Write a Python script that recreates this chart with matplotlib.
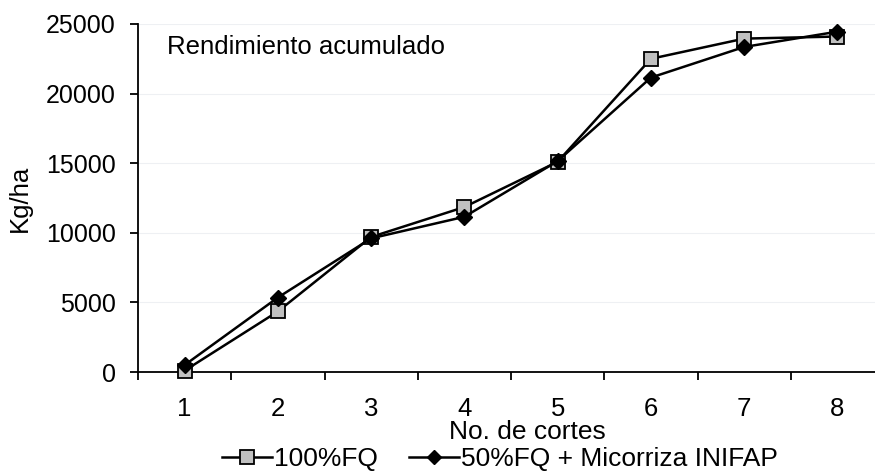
import matplotlib
matplotlib.use("Agg")
import matplotlib.pyplot as plt
from matplotlib.ticker import FixedLocator, NullFormatter
from matplotlib.lines import Line2D

plt.rcParams['font.family'] = ['Liberation Sans', 'DejaVu Sans']

cortes = [1, 2, 3, 4, 5, 6, 7, 8]
fq100 = [100, 4350, 9700, 11850, 15100, 22500, 23950, 24100]
fq50_mic = [500, 5350, 9600, 11150, 15150, 21150, 23350, 24450]
series_names = ['100%FQ', '50%FQ + Micorriza INIFAP']
y_ticks = [0, 5000, 10000, 15000, 20000, 25000]

FS = 18.5

fig = plt.figure(figsize=(8.75, 4.72), dpi=100)
ax = fig.add_axes([138/875, 1 - 372/472, (884 - 138)/875, (372 - 24)/472])

ax.plot(cortes, fq100, color='black', lw=1.8, marker='s', ms=10.5,
        mfc='#c0c0c0', mec='black', mew=1.3, zorder=3, clip_on=False)
ax.plot(cortes, fq50_mic, color='black', lw=1.8, marker='D', ms=8,
        mfc='black', mec='black', zorder=4, clip_on=False)

ax.set_xlim(0.5, 8.5)
ax.set_ylim(0, 25000)
ax.set_yticks(y_ticks)
ax.set_yticklabels([str(v) for v in y_ticks], fontsize=18)
ax.yaxis.grid(True, color='#eef0f3', lw=0.8)
ax.set_axisbelow(True)

ax.xaxis.set_major_locator(FixedLocator([c + 0.5 for c in cortes[:-1]] + [0.5]))
ax.xaxis.set_major_formatter(NullFormatter())
ax.xaxis.set_minor_locator(FixedLocator(cortes))
ax.set_xticklabels([str(c) for c in cortes], minor=True, fontsize=FS)
ax.tick_params(axis='x', which='minor', length=0, pad=18)
ax.tick_params(axis='x', which='major', length=6, width=1.3, direction='out')
ax.tick_params(axis='y', length=6, width=1.3, direction='out', pad=10)

for s in ['top', 'right']:
    ax.spines[s].set_visible(False)
for s in ['left', 'bottom']:
    ax.spines[s].set_linewidth(1.3)

ax.set_xlabel('No. de cortes', fontsize=19)
ax.xaxis.label.set_va('center')
ax.xaxis.set_label_coords((527 - 138) / 746, (372 - 432) / 348)
ax.set_ylabel('Kg/ha', fontsize=FS, labelpad=10)

ax.text(167/875, 1 - 47/472, 'Rendimiento acumulado', transform=fig.transFigure,
        fontsize=FS, va='center', ha='left')

handles = [
    Line2D([], [], color='black', lw=1.8, marker='s', ms=10, mfc='#c0c0c0', mec='black', mew=1.3),
    Line2D([], [], color='black', lw=1.8, marker='D', ms=7.5, mfc='black', mec='black'),
]
fig.legend(handles, series_names, loc='center', bbox_to_anchor=(500/875, 1 - 459/472),
           ncol=2, frameon=False, fontsize=19, handlelength=1.9, handletextpad=0.05,
           columnspacing=1.2, borderaxespad=0)

fig.savefig('out.png', dpi=100)
